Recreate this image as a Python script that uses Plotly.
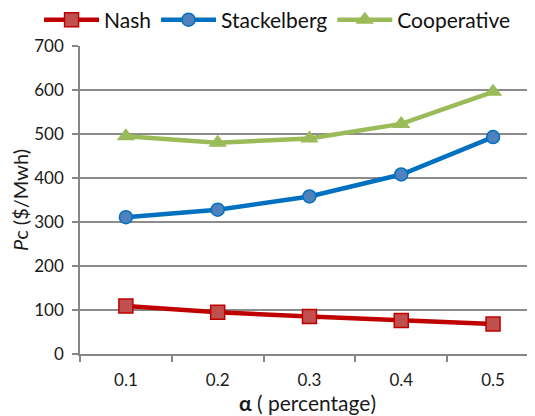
import plotly.graph_objects as go

alpha = [0.1, 0.2, 0.3, 0.4, 0.5]
alpha_labels = ["0.1", "0.2", "0.3", "0.4", "0.5"]
nash = [109, 95, 85, 76, 68]
stackelberg = [311, 328, 358, 408, 493]
cooperative = [495, 480, 490, 523, 596]
y_ticks = [0, 100, 200, 300, 400, 500, 600, 700]

FONT = "Lato, Liberation Sans, sans-serif"

fig = go.Figure()
fig.add_trace(go.Scatter(
    x=alpha, y=nash, name="Nash", mode="lines+markers",
    line=dict(color="#C00000", width=4.5),
    marker=dict(symbol="square", size=14, color="#C0504D", line=dict(color="#C00000", width=1.5)),
    cliponaxis=False))
fig.add_trace(go.Scatter(
    x=alpha, y=stackelberg, name="Stackelberg", mode="lines+markers",
    line=dict(color="#0070C0", width=4.5),
    marker=dict(symbol="circle", size=13, color="#4F81BD", line=dict(color="#0070C0", width=1.5)),
    cliponaxis=False))
fig.add_trace(go.Scatter(
    x=alpha, y=cooperative, name="Cooperative", mode="lines+markers",
    line=dict(color="#9BBB59", width=4.5),
    marker=dict(symbol="triangle-up", size=16, color="#9BBB59", line=dict(color="#9BBB59", width=0)),
    cliponaxis=False))

fig.update_layout(
    width=527, height=408,
    margin=dict(l=72, r=0, t=38, b=62, autoexpand=False),
    paper_bgcolor="white", plot_bgcolor="white",
    font=dict(family=FONT, size=17, color="#1a1a1a"),
    showlegend=True,
    legend=dict(orientation="h", xref="paper", yref="paper",
                x=-0.090, y=1.0844, xanchor="left", yanchor="middle",
                font=dict(size=21, color="#111111"), itemwidth=55,
                bgcolor="rgba(0,0,0,0)", traceorder="normal"),
    xaxis=dict(range=[0.05, 0.5457], tickvals=alpha, ticktext=alpha_labels,
               ticks="", showgrid=False, zeroline=False, automargin=False,
               showline=True, linecolor="#868686", linewidth=1.5,
               ticklabelstandoff=10,
               minor=dict(tickvals=[0.05, 0.15, 0.25, 0.35, 0.45], ticks="outside",
                          ticklen=6, tickcolor="#868686", tickwidth=1.5, showgrid=False),
               title=dict(text="<b>α</b> ( percentage)", standoff=3, font=dict(size=21)),
               tickfont=dict(size=17)),
    yaxis=dict(range=[0, 700], tickvals=y_ticks, ticks="outside", ticklen=6,
               tickcolor="#868686", tickwidth=1.5, automargin=False,
               ticklabelstandoff=5,
               showgrid=True, gridcolor="#8C8C8C", gridwidth=1.5,
               zeroline=False, showline=True, linecolor="#868686", linewidth=1.5,
               title=dict(text="<i>P</i>c ($/Mwh)", standoff=4, font=dict(size=20)),
               tickfont=dict(size=17)),
)

fig.write_html("out.html")
